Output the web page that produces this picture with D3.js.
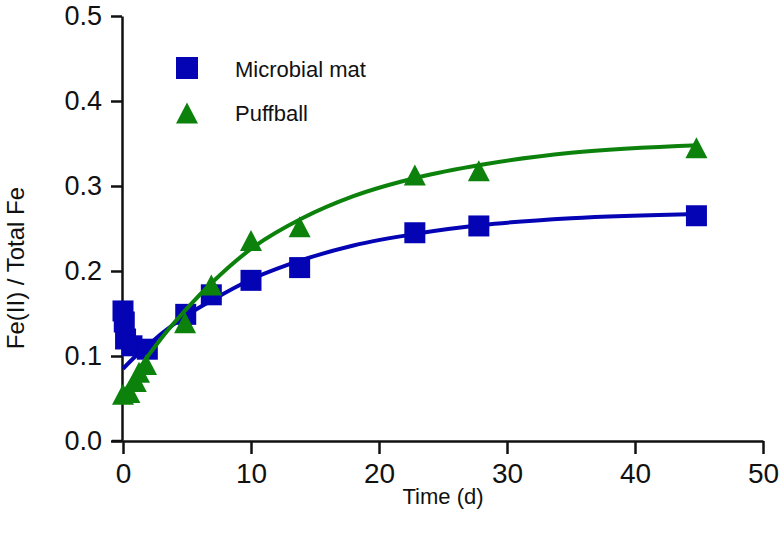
<!DOCTYPE html>
<html>
<head>
<meta charset="utf-8">
<script src="https://cdn.jsdelivr.net/npm/d3@7"></script>
<style>
  html, body { margin: 0; padding: 0; background: #fff; }
  svg { display: block; font-family: "Liberation Sans", Arial, Helvetica, sans-serif; }
</style>
</head>
<body>
<svg id="chart" width="784" height="545"></svg>
<script>
// ---- data ----
const seriesNames = ["Microbial mat", "Puffball"];

const matTimes  = [0, 0.1, 0.2, 0.7, 1.9, 4.9, 6.9, 10, 13.8, 22.8, 27.8, 44.8];
const matValues = [0.153, 0.14, 0.12, 0.112, 0.108, 0.149, 0.172, 0.189, 0.204, 0.245, 0.253, 0.265];

const puffTimes  = [0, 0.5, 1, 1.25, 1.8, 4.85, 6.9, 10, 13.8, 22.8, 27.8, 44.8];
const puffValues = [0.055, 0.057, 0.07, 0.081, 0.09, 0.139, 0.1835, 0.236, 0.252, 0.313, 0.318, 0.345];

// fitted curves
const fitTimes      = [0, 1, 2, 3, 5, 7, 10, 14, 18, 23, 28, 35, 45];
const matFitValues  = [0.085, 0.100, 0.113, 0.126, 0.148, 0.166, 0.190, 0.213, 0.230, 0.244, 0.254, 0.262, 0.267];
const puffFitValues = [0.055, 0.079, 0.101, 0.121, 0.156, 0.187, 0.226, 0.262, 0.288, 0.310, 0.325, 0.339, 0.348];

const xTicks = [0, 10, 20, 30, 40, 50];
const yTicks = [0, 0.1, 0.2, 0.3, 0.4, 0.5];
const xTitle = "Time (d)";
const yTitle = "Fe(II) / Total Fe";

// ---- drawing ----
const blue = "#0404b4", green = "#0c820c", axisColor = "#111";
const svg = d3.select("#chart");

const x = d3.scaleLinear().domain([0, 50]).range([123, 763]);
const y = d3.scaleLinear().domain([0, 0.5]).range([441, 16]);

// axes
const yAxis = d3.axisLeft(y).tickValues(yTicks).tickFormat(d3.format(".1f"))
  .tickSize(11).tickSizeOuter(0).tickPadding(9);
const xAxis = d3.axisBottom(x).tickValues(xTicks).tickFormat(d3.format("d"))
  .tickSize(13).tickSizeOuter(0).tickPadding(9);

const gy = svg.append("g").attr("transform", "translate(122,0)").call(yAxis);
const gx = svg.append("g").attr("transform", "translate(0,441)").call(xAxis);

[gx, gy].forEach(g => {
  g.select(".domain").attr("stroke", axisColor).attr("stroke-width", 2.5);
  g.selectAll(".tick line").attr("stroke", axisColor).attr("stroke-width", 2.5);
  g.selectAll(".tick text").attr("fill", "#111").style("font-family", "'Liberation Sans', Arial, sans-serif");
});
gy.selectAll(".tick text").attr("font-size", 27);
gx.selectAll(".tick text").attr("font-size", 28);

// extend x-axis line to meet y axis
svg.append("line").attr("x1", 112).attr("x2", 123).attr("y1", 441).attr("y2", 441)
  .attr("stroke", axisColor).attr("stroke-width", 2.5);

// axis titles
svg.append("text").attr("x", 443).attr("y", 504).attr("text-anchor", "middle")
  .attr("font-size", 22).attr("fill", "#111").text(xTitle);
svg.append("text").attr("transform", "translate(24,268) rotate(-90)")
  .attr("text-anchor", "middle").attr("font-size", 24).attr("fill", "#111").text(yTitle);

// marker generators
const sq = 21;
function squarePath(s) { const h = s / 2; return `M${-h},${-h}H${h}V${h}H${-h}Z`; }
function trianglePath(w, h) { return `M0,${-h/2}L${w/2},${h/2}L${-w/2},${h/2}Z`; }

const line = d3.line().x(d => x(d[0])).y(d => y(d[1])).curve(d3.curveMonotoneX);

const matFit  = fitTimes.map((t, i) => [t, matFitValues[i]]);
const puffFit = fitTimes.map((t, i) => [t, puffFitValues[i]]);
const matPts  = matTimes.map((t, i) => [t, matValues[i]]);
const puffPts = puffTimes.map((t, i) => [t, puffValues[i]]);

// Microbial mat: line then squares
svg.append("path").datum(matFit).attr("d", line)
  .attr("fill", "none").attr("stroke", blue).attr("stroke-width", 4);
svg.append("g").selectAll("path").data(matPts).join("path")
  .attr("d", squarePath(sq))
  .attr("transform", d => `translate(${x(d[0])},${y(d[1])})`)
  .attr("fill", blue);

// Puffball: line then triangles
svg.append("path").datum(puffFit).attr("d", line)
  .attr("fill", "none").attr("stroke", green).attr("stroke-width", 4);
svg.append("g").selectAll("path").data(puffPts).join("path")
  .attr("d", trianglePath(22, 21))
  .attr("transform", d => `translate(${x(d[0])},${y(d[1])})`)
  .attr("fill", green);

// legend
const legend = svg.append("g");
legend.append("path").attr("d", squarePath(22)).attr("transform", "translate(187,68)").attr("fill", blue);
legend.append("text").attr("x", 235).attr("y", 77).attr("font-size", 22).attr("fill", "#111").text(seriesNames[0]);
legend.append("path").attr("d", trianglePath(22, 21)).attr("transform", "translate(187,113)").attr("fill", green);
legend.append("text").attr("x", 235).attr("y", 121).attr("font-size", 22).attr("fill", "#111").text(seriesNames[1]);
</script>
</body>
</html>
